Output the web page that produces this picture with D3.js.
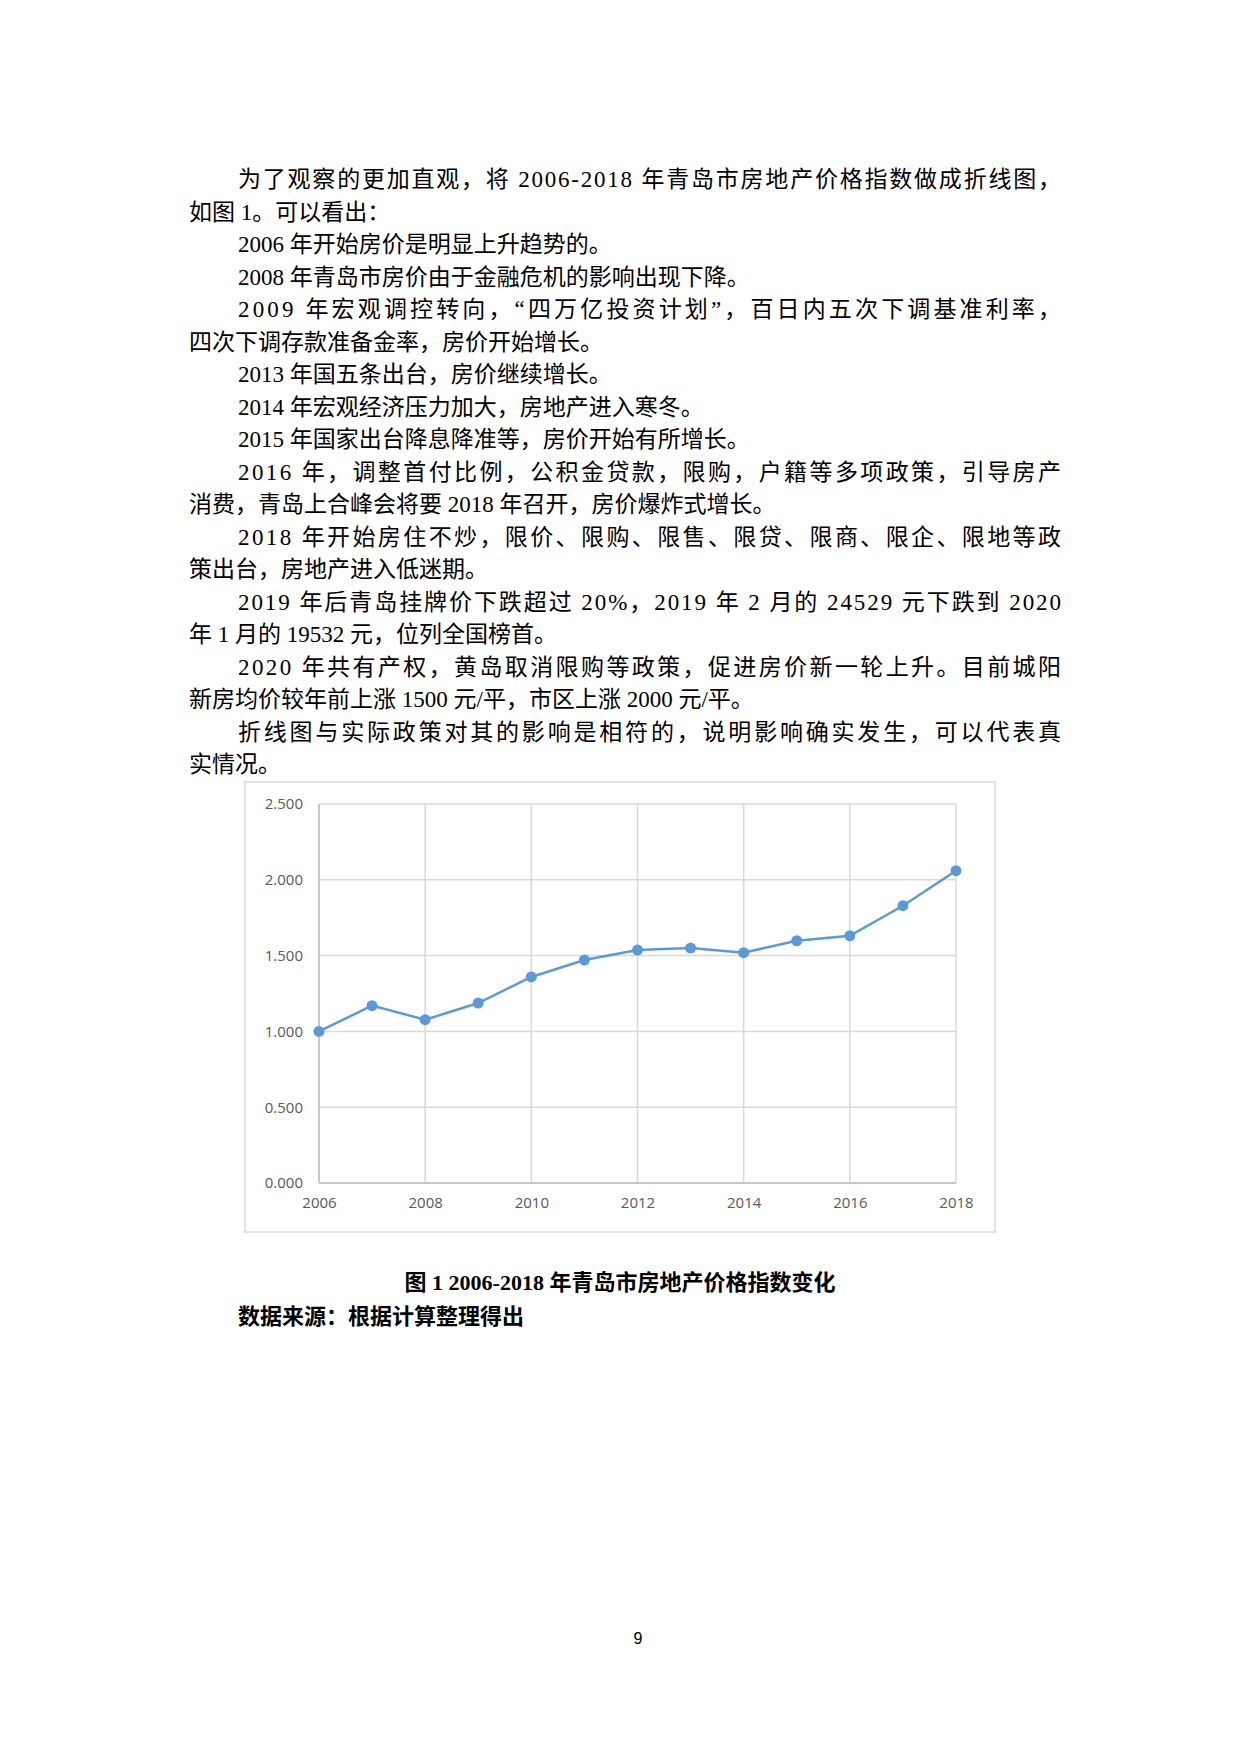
<!DOCTYPE html>
<html lang="zh">
<head>
<meta charset="UTF-8">
<title>青岛市房地产价格指数</title>
<script src="https://cdn.jsdelivr.net/npm/d3@7"></script>
<style>
  body { margin: 0; background: #fff; }
  .para { font-family: "Liberation Serif", "Noto Sans CJK SC", serif; font-size: 23px; fill: #000; }
  .cap { font-family: "Liberation Serif", "Noto Sans CJK SC", sans-serif; font-size: 22px; font-weight: bold; fill: #000; }
  .axis text { font-family: "Open Sans", "Liberation Sans", sans-serif; font-size: 15px; fill: #595959; }
</style>
</head>
<body>
<script>
var years = [2006, 2007, 2008, 2009, 2010, 2011, 2012, 2013, 2014, 2015, 2016, 2017, 2018];
var index_values = [1.000, 1.170, 1.077, 1.187, 1.359, 1.471, 1.537, 1.550, 1.519, 1.598, 1.631, 1.829, 2.060];
var y_ticks = [0, 0.5, 1.0, 1.5, 2.0, 2.5];
var x_ticks = [2006, 2008, 2010, 2012, 2014, 2016, 2018];

// [text, indented, justified]
var lines = [
  ['为了观察的更加直观，将 2006-2018 年青岛市房地产价格指数做成折线图，', true, true],
  ['如图 1。可以看出：', false, false],
  ['2006 年开始房价是明显上升趋势的。', true, false],
  ['2008 年青岛市房价由于金融危机的影响出现下降。', true, false],
  ['2009 年宏观调控转向，“四万亿投资计划”，百日内五次下调基准利率，', true, true],
  ['四次下调存款准备金率，房价开始增长。', false, false],
  ['2013 年国五条出台，房价继续增长。', true, false],
  ['2014 年宏观经济压力加大，房地产进入寒冬。', true, false],
  ['2015 年国家出台降息降准等，房价开始有所增长。', true, false],
  ['2016 年，调整首付比例，公积金贷款，限购，户籍等多项政策，引导房产', true, true],
  ['消费，青岛上合峰会将要 2018 年召开，房价爆炸式增长。', false, false],
  ['2018 年开始房住不炒，限价、限购、限售、限贷、限商、限企、限地等政', true, true],
  ['策出台，房地产进入低迷期。', false, false],
  ['2019 年后青岛挂牌价下跌超过 20%，2019 年 2 月的 24529 元下跌到 2020', true, true],
  ['年 1 月的 19532 元，位列全国榜首。', false, false],
  ['2020 年共有产权，黄岛取消限购等政策，促进房价新一轮上升。目前城阳', true, true],
  ['新房均价较年前上涨 1500 元/平，市区上涨 2000 元/平。', false, false],
  ['折线图与实际政策对其的影响是相符的，说明影响确实发生，可以代表真', true, true],
  ['实情况。', false, false]
];

var svg = d3.select('body').append('svg').attr('width', 1240).attr('height', 1754);

var leftX = 189, indentX = 238, rightX = 1061;
lines.forEach(function (l, i) {
  var x0 = l[1] ? indentX : leftX;
  var t = svg.append('text').attr('class', 'para')
    .attr('x', x0).attr('y', 187 + i * 32.5).text(l[0]);
  if (l[2]) t.attr('textLength', rightX - x0).attr('lengthAdjust', 'spacing');
});

// chart frame
svg.append('rect').attr('x', 245).attr('y', 782).attr('width', 750).attr('height', 450)
  .attr('fill', '#fff').attr('stroke', '#d9d9d9').attr('stroke-width', 1.5);

var x = d3.scaleLinear().domain([2006, 2018]).range([319, 956]);
var y = d3.scaleLinear().domain([0, 2.5]).range([1183, 804]);

var g = svg.append('g');
g.selectAll('.hg').data(y_ticks).enter().append('line')
  .attr('x1', x(2006)).attr('x2', x(2018))
  .attr('y1', function (d) { return y(d); }).attr('y2', function (d) { return y(d); })
  .attr('stroke', '#d9d9d9').attr('stroke-width', 1.5);
g.selectAll('.vg').data(x_ticks).enter().append('line')
  .attr('x1', function (d) { return x(d); }).attr('x2', function (d) { return x(d); })
  .attr('y1', y(0)).attr('y2', y(2.5))
  .attr('stroke', '#d9d9d9').attr('stroke-width', 1.5);
g.append('line').attr('x1', x(2006)).attr('x2', x(2006)).attr('y1', y(0)).attr('y2', y(2.5))
  .attr('stroke', '#bfbfbf').attr('stroke-width', 1.5);
g.append('line').attr('x1', x(2006)).attr('x2', x(2018)).attr('y1', y(0)).attr('y2', y(0))
  .attr('stroke', '#bfbfbf').attr('stroke-width', 1.5);

var ya = svg.append('g').attr('class', 'axis').attr('transform', 'translate(' + x(2006) + ',0)')
  .call(d3.axisLeft(y).tickValues(y_ticks).tickFormat(d3.format('.3f')).tickSize(0).tickPadding(16));
ya.select('.domain').remove();
var xa = svg.append('g').attr('class', 'axis').attr('transform', 'translate(0,' + y(0) + ')')
  .call(d3.axisBottom(x).tickValues(x_ticks).tickFormat(d3.format('d')).tickSize(0).tickPadding(14));
xa.select('.domain').remove();

var pts = years.map(function (d, i) { return [d, index_values[i]]; });
svg.append('path').datum(pts)
  .attr('d', d3.line().x(function (d) { return x(d[0]); }).y(function (d) { return y(d[1]); }))
  .attr('fill', 'none').attr('stroke', '#5b9bd5').attr('stroke-width', 2.5);
svg.selectAll('.pt').data(pts).enter().append('circle')
  .attr('cx', function (d) { return x(d[0]); }).attr('cy', function (d) { return y(d[1]); })
  .attr('r', 5.5).attr('fill', '#5b9bd5');

svg.append('text').attr('class', 'cap').attr('x', 620).attr('y', 1290).attr('text-anchor', 'middle')
  .text('图 1  2006-2018 年青岛市房地产价格指数变化');
svg.append('text').attr('class', 'cap').attr('x', 238).attr('y', 1324)
  .text('数据来源：根据计算整理得出');
svg.append('text').attr('x', 638).attr('y', 1644).attr('text-anchor', 'middle')
  .attr('font-family', 'Liberation Sans, sans-serif').attr('font-size', 16).text('9');
</script>
</body>
</html>
